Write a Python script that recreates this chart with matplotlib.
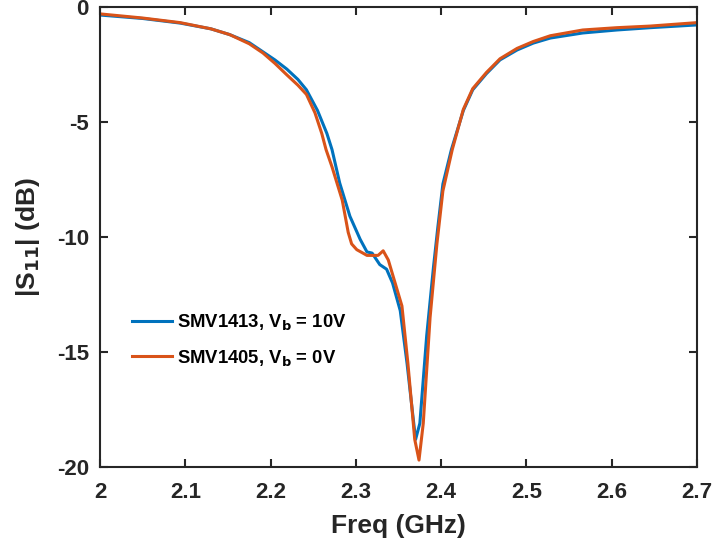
import matplotlib
matplotlib.use('Agg')
import matplotlib.pyplot as plt

plt.rcParams['font.family'] = ['Liberation Sans', 'DejaVu Sans']
plt.rcParams['font.weight'] = 'bold'
plt.rcParams['mathtext.default'] = 'bf'
plt.rcParams['axes.unicode_minus'] = False

# SMV1413, Vb = 10V
f_blue = [2.000, 2.050, 2.094, 2.130, 2.152, 2.175, 2.191, 2.205, 2.219, 2.232,
          2.242, 2.255, 2.266, 2.272, 2.281, 2.293, 2.305, 2.313, 2.319, 2.328,
          2.336, 2.343, 2.352, 2.360, 2.366, 2.370, 2.375, 2.383, 2.391, 2.396,
          2.402, 2.412, 2.426, 2.437, 2.453, 2.469, 2.489, 2.508, 2.528, 2.566,
          2.606, 2.645, 2.700]
s_blue = [-0.35, -0.5, -0.7, -0.95, -1.2, -1.55, -1.95, -2.3, -2.7, -3.15,
          -3.6, -4.5, -5.5, -6.2, -7.65, -9.1, -10.1, -10.65, -10.7, -11.2,
          -11.4, -12.0, -13.2, -15.5, -17.5, -18.8, -18.1, -14.3, -11.3, -9.6,
          -7.7, -6.2, -4.5, -3.6, -2.9, -2.3, -1.87, -1.57, -1.35, -1.13,
          -1.0, -0.9, -0.78]

# SMV1405, Vb = 0V
f_orange = [2.000, 2.050, 2.094, 2.130, 2.152, 2.175, 2.191, 2.205, 2.219, 2.232,
            2.242, 2.252, 2.260, 2.265, 2.272, 2.284, 2.291, 2.295, 2.301, 2.313,
            2.326, 2.332, 2.338, 2.346, 2.354, 2.361, 2.369, 2.374, 2.379, 2.387,
            2.395, 2.402, 2.413, 2.426, 2.437, 2.453, 2.469, 2.489, 2.508, 2.528,
            2.566, 2.606, 2.645, 2.700]
s_orange = [-0.3, -0.48, -0.68, -0.95, -1.2, -1.6, -2.0, -2.45, -2.95, -3.4,
            -3.8, -4.6, -5.5, -6.2, -6.95, -8.4, -9.8, -10.3, -10.55, -10.8,
            -10.8, -10.6, -11.0, -12.0, -13.0, -15.5, -18.8, -19.7, -18.1, -13.5,
            -10.3, -8.0, -6.2, -4.45, -3.55, -2.85, -2.25, -1.8, -1.5, -1.25,
            -1.0, -0.9, -0.83, -0.68]

xticks = [2, 2.1, 2.2, 2.3, 2.4, 2.5, 2.6, 2.7]
xticklabels = ['2', '2.1', '2.2', '2.3', '2.4', '2.5', '2.6', '2.7']
yticks = [-20, -15, -10, -5, 0]

fig = plt.figure(figsize=(7.13, 5.5), dpi=100)
ax = fig.add_axes([0.1403, 0.1509, 0.8373, 0.8364])

ax.plot(f_blue, s_blue, color='#0072BD', lw=2.2, label='SMV1413, V$_b$ = 10V')
ax.plot(f_orange, s_orange, color='#D95319', lw=2.2, label='SMV1405, V$_b$ = 0V')

ax.set_xlim(2, 2.7)
ax.set_ylim(-20, 0)
ax.set_xticks(xticks)
ax.set_xticklabels(xticklabels)
ax.set_yticks(yticks)
ax.tick_params(direction='in', top=True, right=True, length=6, width=1.5,
               labelsize=16, colors='#262626')
ax.tick_params(axis='x', pad=11)
ax.tick_params(axis='y', pad=8)
for sp in ax.spines.values():
    sp.set_linewidth(1.5)
    sp.set_color('#262626')

ax.set_xlabel('Freq (GHz)', fontsize=19, fontweight='bold', color='#262626', labelpad=8)
ax.set_ylabel('|S$_{11}$| (dB)', fontsize=19, fontweight='bold', color='#262626', labelpad=11)

leg = ax.legend(loc='center left', bbox_to_anchor=(0.0536, 0.276), frameon=False,
                fontsize=13.3, handlelength=2.15, handletextpad=0.28, labelspacing=0.85,
                borderpad=0, borderaxespad=0)
for t in leg.get_texts():
    t.set_fontweight('bold')

fig.savefig('out.png', dpi=100)
